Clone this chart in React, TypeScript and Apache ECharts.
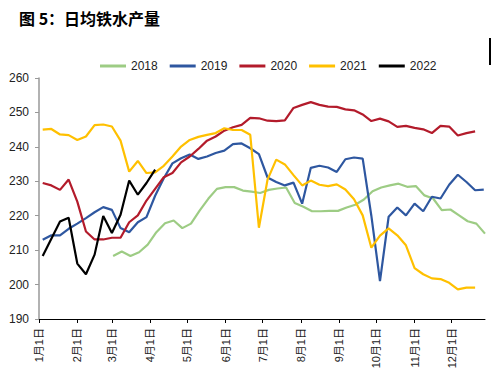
import React, { useEffect, useRef } from "react";
import * as echarts from "echarts";

const years = ["2018", "2019", "2020", "2021", "2022"];
const colors = ["#9DCC84", "#2E57A0", "#B31B2B", "#FFC000", "#000000"];
// first week (month-day) of each series, weekly data afterwards
const startDates = ["03-02", "01-04", "01-04", "01-04", "01-04"];

const v2018 = [
  208.3, 209.6, 208.3, 209.4, 211.6, 215.2, 217.8, 218.6, 216.4, 217.7,
  221.5, 224.9, 227.8, 228.3, 228.3, 227.3, 227.0, 226.6, 227.5, 227.9,
  228.2, 223.7, 222.6, 221.3, 221.3, 221.4, 221.4, 222.4, 223.2, 224.7,
  227.1, 228.2, 228.8, 229.3, 228.4, 228.6, 225.9, 225.0, 221.6, 221.8,
  220.1, 218.4, 217.7, 214.8,
];
const v2019 = [
  213.0, 214.3, 214.3, 216.2, 217.7, 219.3, 221.0, 222.5, 221.7, 216.4,
  215.2, 218.1, 219.6, 225.8, 230.9, 235.2, 236.7, 237.8, 236.5, 237.2,
  238.2, 238.9, 240.8, 241.0, 239.6, 237.9, 231.1, 229.8, 228.8, 229.6,
  223.5, 233.9, 234.5, 234.0, 232.7, 236.4, 236.9, 236.6, 220.0, 201.0,
  219.7, 222.4, 220.1, 223.5, 221.3, 225.5, 225.0, 229.0, 231.9, 229.8,
  227.4, 227.6,
];
const v2020 = [
  229.5, 228.8, 227.5, 230.5, 224.1, 215.4, 213.1, 213.1, 213.6, 213.6,
  218.1, 220.1, 224.4, 227.8, 231.2, 232.4, 235.5, 237.2, 239.4, 241.8,
  243.0, 244.7, 245.7, 246.4, 248.4, 248.3, 247.6, 247.5, 247.7, 251.3,
  252.2, 253.0, 252.2, 251.7, 251.6, 250.9, 250.6, 249.4, 247.5, 248.2,
  247.4, 245.8, 246.1, 245.5, 245.1, 244.0, 246.1, 245.9, 243.3, 244.0,
  244.5,
];
const v2021 = [
  245.0, 245.2, 243.6, 243.4, 242.0, 243.0, 246.3, 246.5, 245.9, 241.8,
  232.8, 235.9, 232.4, 232.6, 234.5, 237.2, 240.1, 242.0, 242.9, 243.5,
  244.0, 245.4, 244.9, 244.9, 243.5, 216.5, 230.5, 236.3, 234.9, 231.8,
  228.8, 230.2, 229.0, 228.6, 229.1, 227.6, 224.8, 220.1, 210.7, 214.2,
  216.3, 214.3, 211.4, 204.8, 203.0, 201.8, 201.6, 200.5, 198.6, 199.1,
  199.1,
];
const v2022 = [
  208.3, 213.3, 218.3, 219.4, 206.1, 203.0, 208.7, 219.9, 215.0, 220.3,
  230.2, 226.1, 229.5, 233.4,
];
const seriesValues = [v2018, v2019, v2020, v2021, v2022];

const monthStarts = [
  "01-01", "02-01", "03-01", "04-01", "05-01", "06-01",
  "07-01", "08-01", "09-01", "10-01", "11-01", "12-01",
];
const monthLabels = [
  "1月1日", "2月1日", "3月1日", "4月1日", "5月1日", "6月1日",
  "7月1日", "8月1日", "9月1日", "10月1日", "11月1日", "12月1日",
];
const axisEnd = "12-28";
const yTicks = { min: 190, max: 260, interval: 10 };

function dayOfYear(md: string): number {
  const [m, d] = md.split("-").map(Number);
  return Math.round((Date.UTC(2019, m - 1, d) - Date.UTC(2019, 0, 1)) / 86400000);
}

const FONT = "'Liberation Sans', 'Noto Sans CJK SC', sans-serif";

export default function App() {
  const ref = useRef<HTMLDivElement>(null);
  useEffect(() => {
    if (!ref.current) return;
    const chart = echarts.init(ref.current, null, { renderer: "svg" });
    const tickDays = monthStarts.map(dayOfYear);
    const series = years.map((y, i) => {
      const s = dayOfYear(startDates[i]);
      return {
        name: y,
        type: "line",
        showSymbol: false,
        symbol: "none",
        lineStyle: { width: 2.2, color: colors[i] },
        itemStyle: { color: colors[i] },
        data: seriesValues[i].map((v, k) => [s + 7 * k, v]),
        z: i === 4 ? 10 : 2 + i,
      };
    });
    chart.setOption({
      animation: false,
      backgroundColor: "#fff",
      title: {
        text: "图 5：日均铁水产量",
        left: 14,
        top: 5,
        textStyle: { fontSize: 16, fontWeight: "bold", color: "#000", fontFamily: "'Noto Sans CJK SC', sans-serif" },
      },
      legend: {
        left: 95,
        top: 55,
        itemWidth: 26,
        itemHeight: 3,
        itemGap: 12,
        icon: "rect",
        textStyle: { fontSize: 12, color: "#222", fontFamily: FONT },
        data: years,
      },
      grid: { left: 39, right: 6, top: 78, bottom: 68, containLabel: false },
      xAxis: {
        type: "value",
        min: 0,
        max: dayOfYear(axisEnd),
        splitLine: { show: false },
        axisLine: { lineStyle: { color: "#000", width: 1 } },
        axisTick: { show: true, length: 4, customValues: tickDays, lineStyle: { color: "#000" } },
        axisLabel: {
          customValues: tickDays,
          rotate: 90,
          margin: 9,
          fontSize: 11,
          color: "#222",
          fontFamily: FONT,
          formatter: (v: number) => {
            const idx = tickDays.indexOf(Math.round(v));
            return idx >= 0 ? monthLabels[idx] : "";
          },
        },
      },
      yAxis: {
        type: "value",
        min: yTicks.min,
        max: yTicks.max,
        interval: yTicks.interval,
        splitLine: { show: false },
        axisLine: { show: true, lineStyle: { color: "#999", width: 1.5 } },
        axisTick: { show: true, length: 4, lineStyle: { color: "#999" } },
        axisLabel: { fontSize: 12, color: "#222", margin: 10, fontFamily: FONT },
      },
      graphic: [
        { type: "rect", left: 489, top: 38, shape: { width: 2, height: 27 }, style: { fill: "#000" } },
      ],
      series,
    });
    return () => chart.dispose();
  }, []);
  return (
    <div
      ref={ref}
      style={{ position: "absolute", left: 0, top: 0, width: 491, height: 387 }}
    />
  );
}
